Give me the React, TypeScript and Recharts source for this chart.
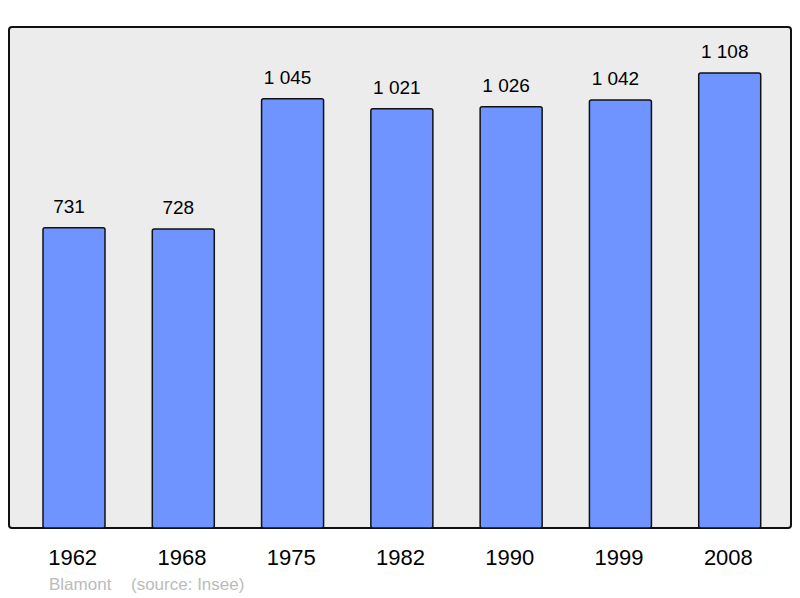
import { Bar, BarChart, LabelList, XAxis, YAxis } from "recharts"

// population by census year (Blamont, source Insee)
const years = ["1962", "1968", "1975", "1982", "1990", "1999", "2008"]
const population = [731, 728, 1045, 1021, 1026, 1042, 1108]

const data = years.map((year, i) => ({ year, value: population[i] }))

const FONT = "'Liberation Sans', Arial, sans-serif"

// 1045 -> "1 045"
const formatValue = (v: any) => String(v).replace(/\B(?=(\d{3})+(?!\d))/g, " ")

const YearTick = ({ x, y, payload }: any) => (
  <text x={x} y={y} dx={-1} dy={37} textAnchor="middle" fontSize={22} fill="#000" fontFamily={FONT}>
    {payload.value}
  </text>
)

export default function App() {
  return (
    <div style={{ position: "absolute", left: 0, top: 0, width: 800, height: 598, background: "#fff" }}>
      {/* plot frame */}
      <div
        style={{
          position: "absolute",
          left: 8,
          top: 26,
          width: 784,
          height: 503,
          boxSizing: "border-box",
          border: "2px solid #111",
          borderRadius: 4,
          background: "#ececec",
        }}
      />
      <div style={{ position: "absolute", left: 0, top: 0 }}>
        <BarChart width={800} height={598} data={data} margin={{ top: 27, right: 9, bottom: 40, left: 9 }}>
          <XAxis
            dataKey="year"
            height={30}
            axisLine={false}
            tickLine={false}
            tickSize={0}
            tickMargin={0}
            padding={{ left: 10, right: 7 }}
            tick={<YearTick />}
            interval={0}
          />
          <YAxis hide domain={[0, 1220]} />
          <Bar
            dataKey="value"
            fill="#7094ff"
            stroke="#111"
            strokeWidth={1.5}
            barSize={62}
            radius={2}
            isAnimationActive={false}
          >
            <LabelList
              dataKey="value"
              position="top"
              offset={15}
              dx={-5}
              formatter={formatValue}
              fontSize={19}
              fill="#000"
              fontFamily={FONT}
            />
          </Bar>
        </BarChart>
      </div>
      <svg style={{ position: "absolute", left: 0, top: 0 }} width={800} height={598}>
        <text x={49} y={590} fontSize={17} fill="#bbbbbb" fontFamily={FONT}>
          Blamont
        </text>
        <text x={131} y={590} fontSize={17} fill="#bbbbbb" fontFamily={FONT}>
          (source: Insee)
        </text>
      </svg>
    </div>
  )
}
